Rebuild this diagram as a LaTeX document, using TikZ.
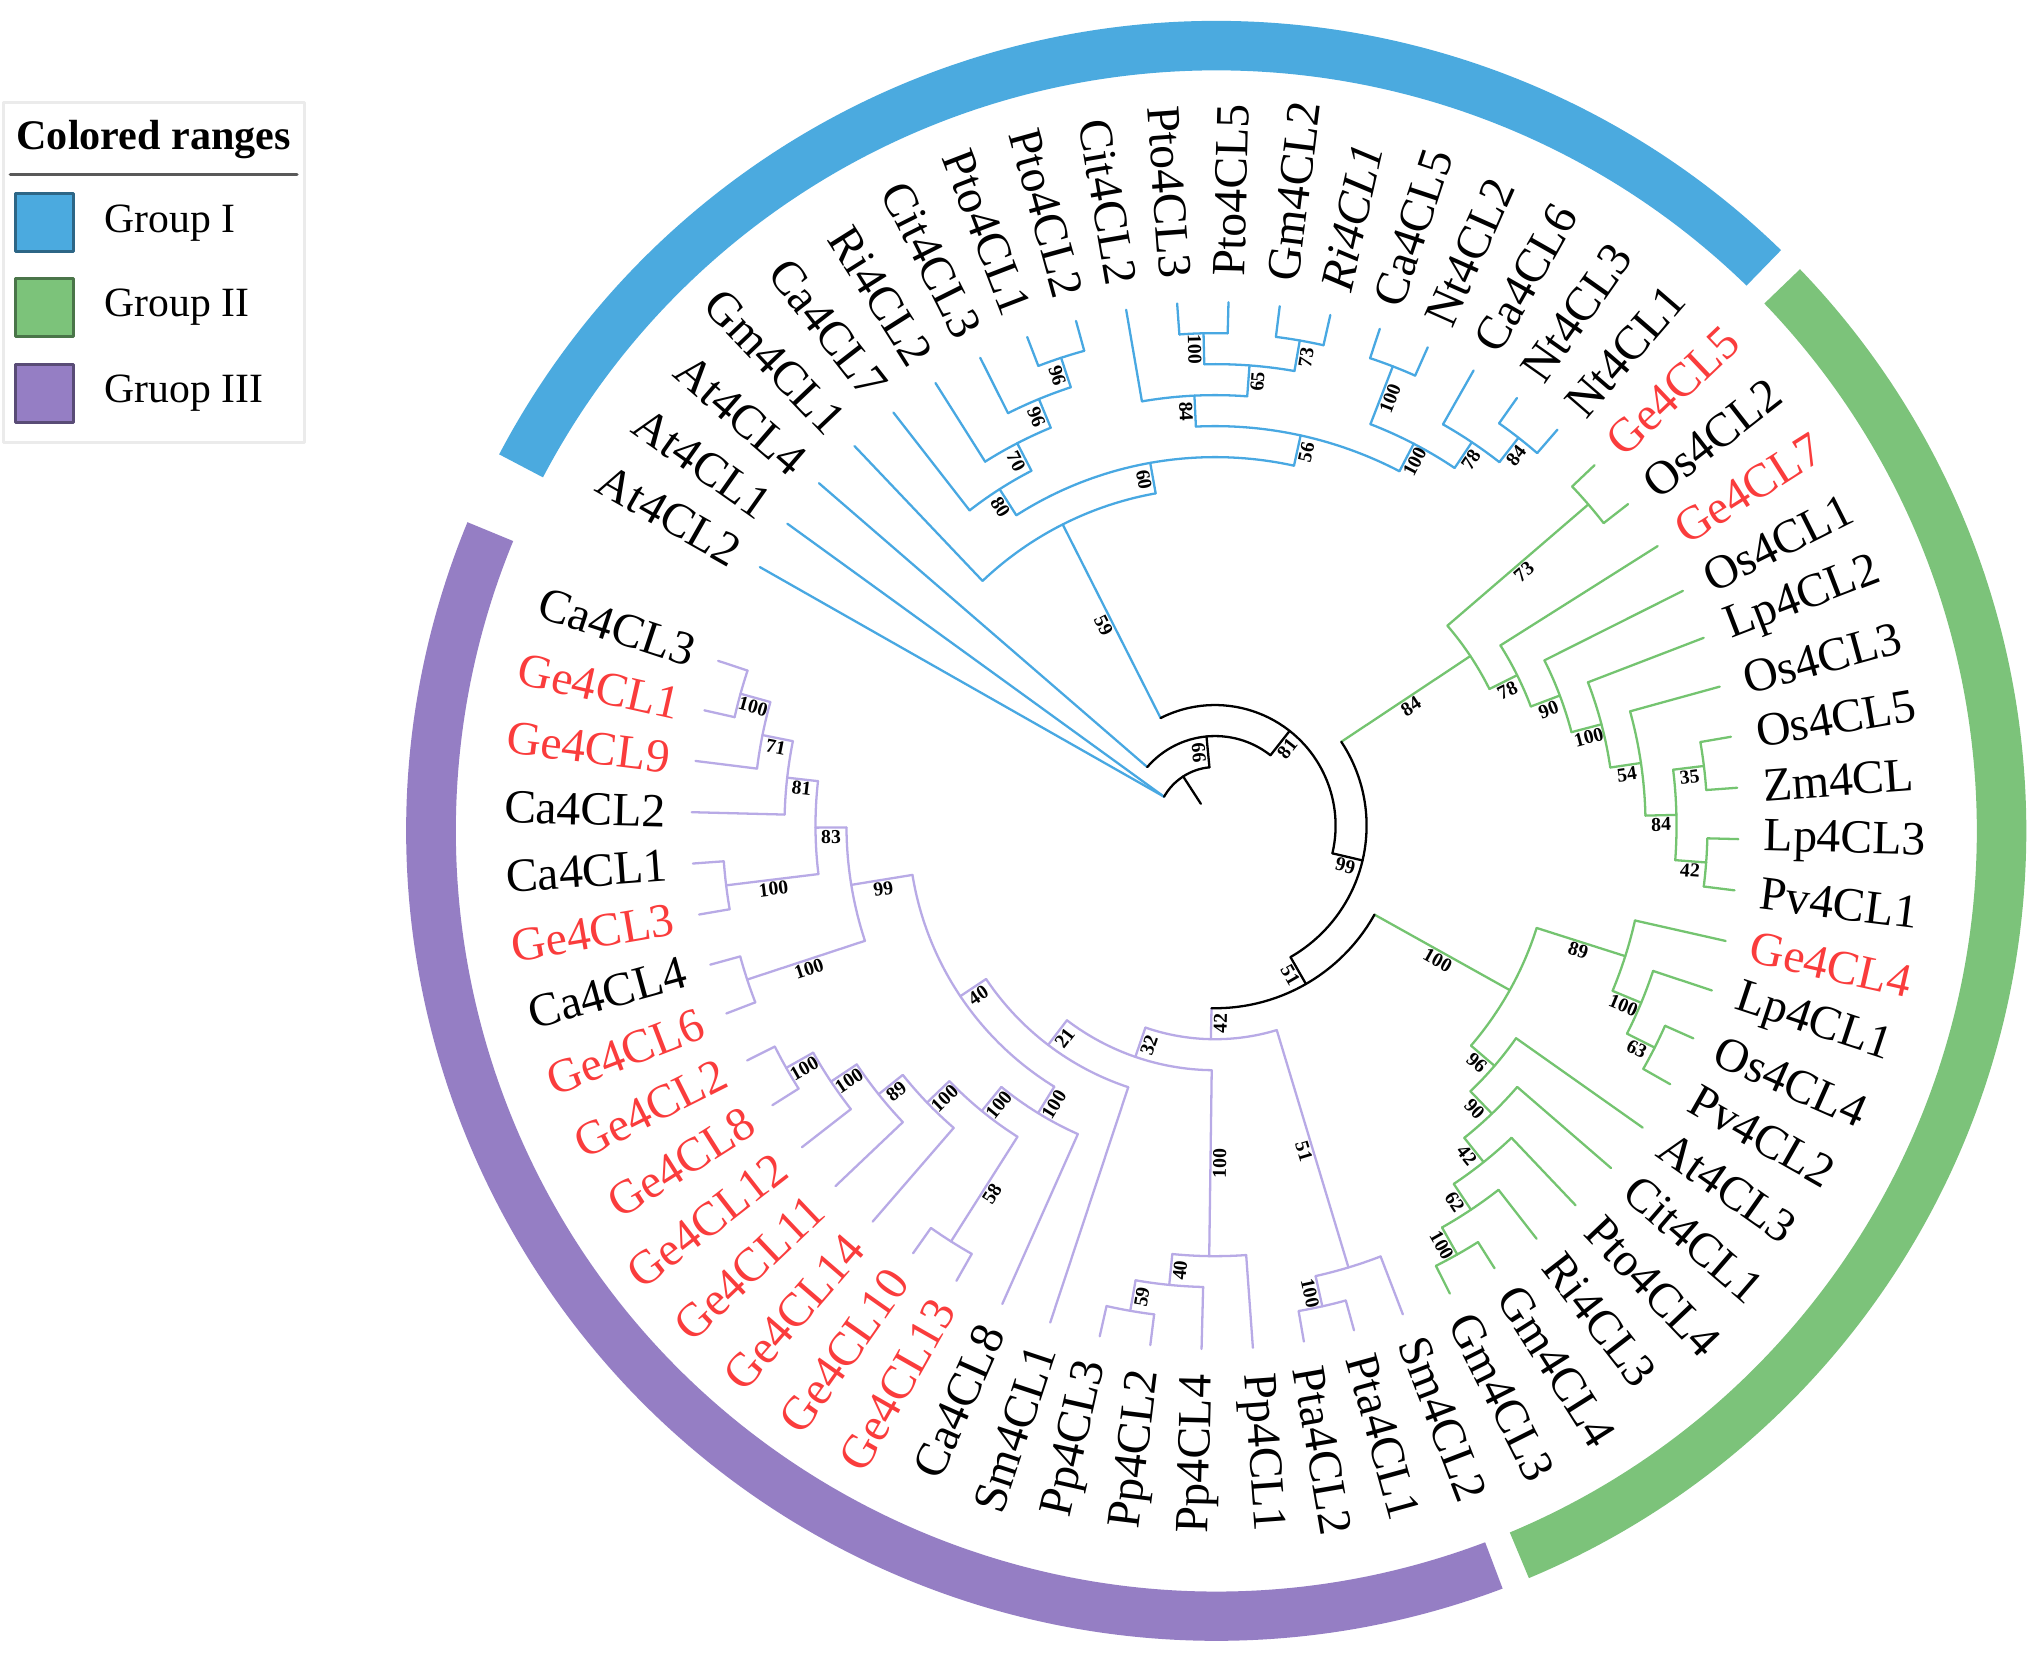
\documentclass[tikz,border=0pt]{standalone}
\usepackage{fontspec}
\setmainfont{Liberation Serif}
\usetikzlibrary{calc,positioning}

\definecolor{blueband}{RGB}{75,170,223}
\definecolor{greenband}{RGB}{124,195,122}
\definecolor{purpleband}{RGB}{149,126,196}
\definecolor{blueline}{RGB}{72,168,226}
\definecolor{greenline}{RGB}{116,196,112}
\definecolor{purpleline}{RGB}{184,170,230}
\definecolor{gered}{RGB}{250,60,60}

\def\tipr{402}
\def\labr{421}

% branch: name, angle, radius, parent radius, style
\newcommand{\branch}[5]{%
  \coordinate (#1) at (#2:#3);
  \coordinate (#1-ft) at (#2:#4);
  \draw[#5] (#1-ft) -- (#1);}
% arc of a clade: first child, angle from, angle to, radius, style
\newcommand{\clade}[5]{%
  \draw[#5] (#1-ft) arc[start angle=#2, end angle=#3, radius=#4];}
% bootstrap value on the branch of a node
\newcommand{\support}[3]{%
  \pgfmathtruncatemacro{\bflip}{cos(#2)<0}%
  \ifnum\bflip=1
    \node[bs,rotate=#2+180] (#1-bs) at ($(#1)!0.5!(#1-ft)$) {#3};
  \else
    \node[bs,rotate=#2] (#1-bs) at ($(#1)!0.5!(#1-ft)$) {#3};
  \fi}
\newcommand{\leaflabel}[3]{%
  \pgfmathtruncatemacro{\lflip}{cos(#2)<0}%
  \ifnum\lflip=1
    \node[leaftext,anchor=east,rotate=#2+180] (#1-lab) at (#2:\labr) {#3};
  \else
    \node[leaftext,anchor=west,rotate=#2] (#1-lab) at (#2:\labr) {#3};
  \fi}
\newcommand{\leaf}[5]{%
  \branch{#1}{#2}{\tipr}{#3}{#5}%
  \leaflabel{#1}{#2}{#4}}
\newcommand{\redlab}[1]{\textcolor{gered}{#1}}

\begin{document}
\begin{tikzpicture}[x=0.01cm,y=0.01cm,line width=0.5pt,line cap=round,line join=round]
\tikzstyle{leaftext}=[font=\fontsize{10.4}{12}\selectfont,inner sep=0pt]
\tikzstyle{bs}=[font=\fontsize{4.3}{5}\selectfont\bfseries,inner sep=0.3pt,anchor=north]
\tikzstyle{grpI}=[draw=blueline]
\tikzstyle{grpII}=[draw=greenline]
\tikzstyle{grpIII}=[draw=purpleline]
\tikzstyle{keybox}=[minimum size=0.445cm,inner sep=0pt,line width=0.6pt]
\tikzstyle{keytext}=[font=\fontsize{9.1}{11}\selectfont,inner sep=0pt]

\useasboundingbox[fill=white] (-933,-641) rectangle (635,634);

% legend
\draw[black!8,line width=0.7pt] (-930.5,294) rectangle (-699,555);
\node[font=\fontsize{9.2}{11}\selectfont\bfseries,inner sep=0pt] (legtitle) at (-815,527) {Colored ranges};
\draw[black!65,line width=0.8pt] (-925,500) -- (-705,500);
\node[keybox,fill=blueband,draw=blueband!60!black] (keyI) at (-899,463) {};
\node[keybox,fill=greenband,draw=greenband!60!black] (keyII) at (-899,398) {};
\node[keybox,fill=purpleband,draw=purpleband!60!black] (keyIII) at (-899,332) {};
\node[keytext,right=0.22cm of keyI] (txtI) {Group I};
\node[keytext,right=0.22cm of keyII] (txtII) {Group II};
\node[keytext,right=0.22cm of keyIII] (txtIII) {Gruop III};

% colored ranges
\begin{scope}[shift={(1,-4)}]
\fill[blueband] (45.8:622) arc[start angle=45.8,end angle=152.3,radius=622] -- (152.3:584) arc[start angle=152.3,end angle=45.8,radius=584] -- cycle;
\fill[greenband] (-67.3:622) arc[start angle=-67.3,end angle=43.9,radius=622] -- (43.9:584) arc[start angle=43.9,end angle=-67.3,radius=584] -- cycle;
\fill[purpleband] (157.6:622) arc[start angle=157.6,end angle=290.7,radius=622] -- (290.7:584) arc[start angle=290.7,end angle=157.6,radius=584] -- cycle;
\end{scope}

% Group I
\leaf{At4CL2}{150.4}{45}{At4CL2}{grpI}
\coordinate (At4CL1) at (144.775:\tipr);
\draw[grpI] (At4CL1) -- (At4CL2-ft);
\leaflabel{At4CL1}{144.775}{At4CL1}
\leaf{At4CL4}{139.15}{68.8}{At4CL4}{grpI}
\leaf{Gm4CL1}{133.525}{259.2}{Gm4CL1}{grpI}
\leaf{Ca4CL7}{127.9}{306.8}{Ca4CL7}{grpI}
\leaf{Ri4CL2}{122.275}{330.6}{Ri4CL2}{grpI}
\leaf{Cit4CL3}{116.65}{354.4}{Cit4CL3}{grpI}
\leaf{Pto4CL1}{111.025}{378.2}{Pto4CL1}{grpI}
\leaf{Pto4CL2}{105.4}{378.2}{Pto4CL2}{grpI}
\leaf{Cit4CL2}{99.775}{330.6}{Cit4CL2}{grpI}
\leaf{Pto4CL3}{94.15}{378.2}{Pto4CL3}{grpI}
\leaf{Pto4CL5}{88.525}{378.2}{Pto4CL5}{grpI}
\leaf{Gm4CL2}{82.9}{378.2}{Gm4CL2}{grpI}
\leaf{Ri4CL1}{77.275}{378.2}{\textit{Ri4CL1}}{grpI}
\leaf{Ca4CL5}{71.65}{378.2}{Ca4CL5}{grpI}
\leaf{Nt4CL2}{66.025}{378.2}{Nt4CL2}{grpI}
\leaf{Ca4CL6}{60.4}{354.4}{Ca4CL6}{grpI}
\leaf{Nt4CL3}{54.775}{378.2}{Nt4CL3}{grpI}
\leaf{Nt4CL1}{49.15}{378.2}{Nt4CL1}{grpI}

\branch{b96a}{108.2125}{378.2}{354.4}{grpI} \clade{Pto4CL1}{111.025}{105.4}{378.2}{grpI} \support{b96a}{108.2125}{96}
\branch{b96b}{112.4313}{354.4}{330.6}{grpI} \clade{Cit4CL3}{116.65}{108.2125}{354.4}{grpI} \support{b96b}{112.4313}{96}
\branch{b70}{117.3531}{330.6}{306.8}{grpI} \clade{Ri4CL2}{122.275}{112.4313}{330.6}{grpI} \support{b70}{117.3531}{70}
\branch{b80}{122.6266}{306.8}{283.0}{grpI} \clade{Ca4CL7}{127.9}{117.3531}{306.8}{grpI} \support{b80}{122.6266}{80}
\branch{b100a}{91.3375}{378.2}{354.4}{grpI} \clade{Pto4CL3}{94.15}{88.525}{378.2}{grpI} \support{b100a}{91.3375}{100}
\branch{b73}{80.0875}{378.2}{354.4}{grpI} \clade{Gm4CL2}{82.9}{77.275}{378.2}{grpI} \support{b73}{80.0875}{73}
\branch{b65}{85.7125}{354.4}{330.6}{grpI} \clade{b100a}{91.3375}{80.0875}{354.4}{grpI} \support{b65}{85.7125}{65}
\branch{b84}{92.7438}{330.6}{306.8}{grpI} \clade{Cit4CL2}{99.775}{85.7125}{330.6}{grpI} \support{b84}{92.7438}{84}
\branch{b100b}{68.8375}{378.2}{330.6}{grpI} \clade{Ca4CL5}{71.65}{66.025}{378.2}{grpI} \support{b100b}{68.8375}{100}
\branch{b84b}{51.9625}{378.2}{354.4}{grpI} \clade{Nt4CL3}{54.775}{49.15}{378.2}{grpI} \support{b84b}{51.9625}{84}
\branch{b78}{56.1813}{354.4}{330.6}{grpI} \clade{Ca4CL6}{60.4}{51.9625}{354.4}{grpI} \support{b78}{56.1813}{78}
\branch{b100c}{62.5094}{330.6}{306.8}{grpI} \clade{b100b}{68.8375}{56.1813}{330.6}{grpI} \support{b100c}{62.5094}{100}
\branch{b56}{77.6266}{306.8}{283.0}{grpI} \clade{b84}{92.7438}{62.5094}{306.8}{grpI} \support{b56}{77.6266}{56}
\branch{b60}{100.1266}{283.0}{259.2}{grpI} \clade{b80}{122.6266}{77.6266}{283.0}{grpI} \support{b60}{100.1266}{60}
\branch{b59}{116.8258}{259.2}{92.6}{grpI} \clade{Gm4CL1}{133.525}{100.1266}{259.2}{grpI} \support{b59}{116.8258}{59}

% Group II
\leaf{Ge4CL5}{43.525}{378.2}{\redlab{Ge4CL5}}{grpII}
\leaf{Os4CL2}{37.9}{378.2}{Os4CL2}{grpII}
\leaf{Ge4CL7}{32.275}{259.2}{\redlab{Ge4CL7}}{grpII}
\leaf{Os4CL1}{26.65}{283.0}{Os4CL1}{grpII}
\leaf{Lp4CL2}{21.025}{306.8}{Lp4CL2}{grpII}
\leaf{Os4CL3}{15.4}{330.6}{Os4CL3}{grpII}
\leaf{Os4CL5}{9.775}{378.2}{Os4CL5}{grpII}
\leaf{Zm4CL}{4.15}{378.2}{Zm4CL}{grpII}
\leaf{Lp4CL3}{-1.475}{378.2}{Lp4CL3}{grpII}
\leaf{Pv4CL1}{-7.1}{378.2}{Pv4CL1}{grpII}
\leaf{Ge4CL4}{-12.725}{330.6}{\redlab{Ge4CL4}}{grpII}
\leaf{Lp4CL1}{-18.35}{354.4}{Lp4CL1}{grpII}
\leaf{Os4CL4}{-23.975}{378.2}{Os4CL4}{grpII}
\leaf{Pv4CL2}{-29.6}{378.2}{Pv4CL2}{grpII}
\leaf{At4CL3}{-35.225}{283.0}{At4CL3}{grpII}
\leaf{Cit4CL1}{-40.85}{306.8}{Cit4CL1}{grpII}
\leaf{Pto4CL4}{-46.475}{330.6}{Pto4CL4}{grpII}
\leaf{Ri4CL3}{-52.1}{354.4}{Ri4CL3}{grpII}
\leaf{Gm4CL4}{-57.725}{378.2}{Gm4CL4}{grpII}
\leaf{Gm4CL3}{-63.35}{378.2}{Gm4CL3}{grpII}

\branch{g73}{40.7125}{378.2}{235.4}{grpII} \clade{Ge4CL5}{43.525}{37.9}{378.2}{grpII} \support{g73}{40.7125}{73}
\branch{g35}{6.9625}{378.2}{354.4}{grpII} \clade{Os4CL5}{9.775}{4.15}{378.2}{grpII} \support{g35}{6.9625}{35}
\branch{g42}{-4.2875}{378.2}{354.4}{grpII} \clade{Lp4CL3}{-1.475}{-7.1}{378.2}{grpII} \support{g42}{-4.2875}{42}
\branch{g84i}{1.3375}{354.4}{330.6}{grpII} \clade{g35}{6.9625}{-4.2875}{354.4}{grpII} \support{g84i}{1.3375}{84}
\branch{g54}{8.3688}{330.6}{306.8}{grpII} \clade{Os4CL3}{15.4}{1.3375}{330.6}{grpII} \support{g54}{8.3688}{54}
\branch{g100}{14.6969}{306.8}{283.0}{grpII} \clade{Lp4CL2}{21.025}{8.3688}{306.8}{grpII} \support{g100}{14.6969}{100}
\branch{g90}{20.6734}{283.0}{259.2}{grpII} \clade{Os4CL1}{26.65}{14.6969}{283.0}{grpII} \support{g90}{20.6734}{90}
\branch{g78}{26.4742}{259.2}{235.4}{grpII} \clade{Ge4CL7}{32.275}{20.6734}{259.2}{grpII} \support{g78}{26.4742}{78}
\branch{gR84}{33.5934}{235.4}{116.4}{grpII} \clade{g73}{40.7125}{26.4742}{235.4}{grpII} \support{gR84}{33.5934}{84}

\branch{h63}{-26.7875}{378.2}{354.4}{grpII} \clade{Os4CL4}{-23.975}{-29.6}{378.2}{grpII} \support{h63}{-26.7875}{63}
\branch{h100a}{-22.5688}{354.4}{330.6}{grpII} \clade{Lp4CL1}{-18.35}{-26.7875}{354.4}{grpII} \support{h100a}{-22.5688}{100}
\branch{h89}{-17.6469}{330.6}{259.2}{grpII} \clade{Ge4CL4}{-12.725}{-22.5688}{330.6}{grpII} \support{h89}{-17.6469}{89}
\branch{hGm}{-60.5375}{378.2}{354.4}{grpII} \clade{Gm4CL4}{-57.725}{-63.35}{378.2}{grpII} \support{hGm}{-60.5375}{100}
\branch{h62}{-56.3188}{354.4}{330.6}{grpII} \clade{Ri4CL3}{-52.1}{-60.5375}{354.4}{grpII} \support{h62}{-56.3188}{62}
\branch{h42}{-51.3969}{330.6}{306.8}{grpII} \clade{Pto4CL4}{-46.475}{-56.3188}{330.6}{grpII} \support{h42}{-51.3969}{42}
\branch{h90}{-46.1234}{306.8}{283.0}{grpII} \clade{Cit4CL1}{-40.85}{-51.3969}{306.8}{grpII} \support{h90}{-46.1234}{90}
\branch{h96}{-40.6742}{283.0}{259.2}{grpII} \clade{At4CL3}{-35.225}{-46.1234}{283.0}{grpII} \support{h96}{-40.6742}{96}
\branch{gR100}{-29.1605}{259.2}{140.2}{grpII} \clade{h89}{-17.6469}{-40.6742}{259.2}{grpII} \support{gR100}{-29.1605}{100}

% Group III
\leaf{Sm4CL2}{-68.975}{354.4}{Sm4CL2}{grpIII}
\leaf{Pta4CL1}{-74.6}{378.2}{Pta4CL1}{grpIII}
\leaf{Pta4CL2}{-80.225}{378.2}{Pta4CL2}{grpIII}
\leaf{Pp4CL1}{-85.85}{330.6}{Pp4CL1}{grpIII}
\leaf{Pp4CL4}{-91.475}{354.4}{Pp4CL4}{grpIII}
\leaf{Pp4CL2}{-97.1}{378.2}{Pp4CL2}{grpIII}
\leaf{Pp4CL3}{-102.725}{378.2}{Pp4CL3}{grpIII}
\leaf{Sm4CL1}{-108.35}{211.6}{Sm4CL1}{grpIII}
\leaf{Ca4CL8}{-113.975}{259.2}{Ca4CL8}{grpIII}
\leaf{Ge4CL13}{-119.6}{378.2}{\redlab{Ge4CL13}}{grpIII}
\leaf{Ge4CL10}{-125.225}{378.2}{\redlab{Ge4CL10}}{grpIII}
\leaf{Ge4CL14}{-130.85}{306.8}{\redlab{Ge4CL14}}{grpIII}
\leaf{Ge4CL11}{-136.475}{330.6}{\redlab{Ge4CL11}}{grpIII}
\leaf{Ge4CL12}{-142.1}{354.4}{\redlab{Ge4CL12}}{grpIII}
\leaf{Ge4CL8}{-147.725}{378.2}{\redlab{Ge4CL8}}{grpIII}
\leaf{Ge4CL2}{-153.35}{378.2}{\redlab{Ge4CL2}}{grpIII}
\leaf{Ge4CL6}{-158.975}{378.2}{\redlab{Ge4CL6}}{grpIII}
\leaf{Ca4CL4}{-164.6}{378.2}{Ca4CL4}{grpIII}
\leaf{Ge4CL3}{-170.225}{378.2}{\redlab{Ge4CL3}}{grpIII}
\leaf{Ca4CL1}{-175.85}{378.2}{Ca4CL1}{grpIII}
\leaf{Ca4CL2}{-181.475}{330.6}{Ca4CL2}{grpIII}
\leaf{Ge4CL9}{-187.1}{354.4}{\redlab{Ge4CL9}}{grpIII}
\leaf{Ge4CL1}{-192.725}{378.2}{\redlab{Ge4CL1}}{grpIII}
\leaf{Ca4CL3}{-198.35}{378.2}{Ca4CL3}{grpIII}

\branch{pPta}{-77.4125}{378.2}{354.4}{grpIII} \clade{Pta4CL1}{-74.6}{-80.225}{378.2}{grpIII} \support{pPta}{-77.4125}{100}
\branch{p51}{-73.1938}{354.4}{164.0}{grpIII} \clade{Sm4CL2}{-68.975}{-77.4125}{354.4}{grpIII} \support{p51}{-73.1938}{51}
\branch{pP59}{-99.9125}{378.2}{354.4}{grpIII} \clade{Pp4CL2}{-97.1}{-102.725}{378.2}{grpIII} \support{pP59}{-99.9125}{59}
\branch{pP40}{-95.6938}{354.4}{330.6}{grpIII} \clade{Pp4CL4}{-91.475}{-99.9125}{354.4}{grpIII} \support{pP40}{-95.6938}{40}
\branch{pP100}{-90.7719}{330.6}{187.8}{grpIII} \clade{Pp4CL1}{-85.85}{-95.6938}{330.6}{grpIII} \support{pP100}{-90.7719}{100}
\branch{pgA}{-150.5375}{378.2}{354.4}{grpIII} \clade{Ge4CL8}{-147.725}{-153.35}{378.2}{grpIII} \support{pgA}{-150.5375}{100}
\branch{pgB}{-146.3188}{354.4}{330.6}{grpIII} \clade{Ge4CL12}{-142.1}{-150.5375}{354.4}{grpIII} \support{pgB}{-146.3188}{100}
\branch{pgC}{-141.3969}{330.6}{306.8}{grpIII} \clade{Ge4CL11}{-136.475}{-146.3188}{330.6}{grpIII} \support{pgC}{-141.3969}{89}
\branch{pgD}{-136.1234}{306.8}{283.0}{grpIII} \clade{Ge4CL14}{-130.85}{-141.3969}{306.8}{grpIII} \support{pgD}{-136.1234}{100}
\branch{pgE}{-122.4125}{378.2}{283.0}{grpIII} \clade{Ge4CL13}{-119.6}{-125.225}{378.2}{grpIII} \support{pgE}{-122.4125}{58}
\branch{pgF}{-129.268}{283.0}{259.2}{grpIII} \clade{pgE}{-122.4125}{-136.1234}{283.0}{grpIII} \support{pgF}{-129.268}{100}
\branch{pgG}{-121.6215}{259.2}{235.4}{grpIII} \clade{Ca4CL8}{-113.975}{-129.268}{259.2}{grpIII} \support{pgG}{-121.6215}{100}
\branch{pc1}{-195.5375}{378.2}{354.4}{grpIII} \clade{Ge4CL1}{-192.725}{-198.35}{378.2}{grpIII} \support{pc1}{-195.5375}{100}
\branch{pc71}{-191.3188}{354.4}{330.6}{grpIII} \clade{Ge4CL9}{-187.1}{-195.5375}{354.4}{grpIII} \support{pc71}{-191.3188}{71}
\branch{pc81}{-186.3969}{330.6}{306.8}{grpIII} \clade{Ca4CL2}{-181.475}{-191.3188}{330.6}{grpIII} \support{pc81}{-186.3969}{81}
\branch{pc100b}{-173.0375}{378.2}{306.8}{grpIII} \clade{Ge4CL3}{-170.225}{-175.85}{378.2}{grpIII} \support{pc100b}{-173.0375}{100}
\branch{pc83}{-179.7172}{306.8}{283.0}{grpIII} \clade{pc100b}{-173.0375}{-186.3969}{306.8}{grpIII} \support{pc83}{-179.7172}{83}
\branch{pc100c}{-161.7875}{378.2}{283.0}{grpIII} \clade{Ge4CL6}{-158.975}{-164.6}{378.2}{grpIII} \support{pc100c}{-161.7875}{100}
\branch{pc99}{-170.7524}{283.0}{235.4}{grpIII} \clade{pc100c}{-161.7875}{-179.7172}{283.0}{grpIII} \support{pc99}{-170.7524}{99}
\branch{p40}{-146.1869}{235.4}{211.6}{grpIII} \clade{pgG}{-121.6215}{-170.7524}{235.4}{grpIII} \support{p40}{-146.1869}{40}
\branch{p21}{-127.2685}{211.6}{187.8}{grpIII} \clade{Sm4CL1}{-108.35}{-146.1869}{211.6}{grpIII} \support{p21}{-127.2685}{21}
\branch{p32}{-109.0202}{187.8}{164.0}{grpIII} \clade{pP100}{-90.7719}{-127.2685}{187.8}{grpIII} \support{p32}{-109.0202}{32}
\branch{pR42}{-91.107}{164.0}{140.2}{grpIII} \clade{p51}{-73.1938}{-109.0202}{164.0}{grpIII} \support{pR42}{-91.107}{42}

% root part
\branch{N51}{-60.1338}{140.2}{116.4}{black} \clade{gR100}{-29.1605}{-91.107}{140.2}{black} \support{N51}{-60.1338}{51}
\branch{N99}{-13.2702}{116.4}{92.6}{black} \clade{gR84}{33.5934}{-60.1338}{116.4}{black} \support{N99}{-13.2702}{99}
\branch{N81}{51.7778}{92.6}{68.8}{black} \clade{b59}{116.8258}{-13.2702}{92.6}{black} \support{N81}{51.7778}{81}
\branch{N66}{95.4639}{68.8}{45}{black} \clade{At4CL4}{139.15}{51.7778}{68.8}{black} \support{N66}{95.4639}{66}
\clade{At4CL2}{150.4}{95.4639}{45}{black}
\coordinate (root) at (122.93:45);
\coordinate (rootend) at (122.93:20);
\draw (root) -- (rootend);
\end{tikzpicture}
\end{document}
